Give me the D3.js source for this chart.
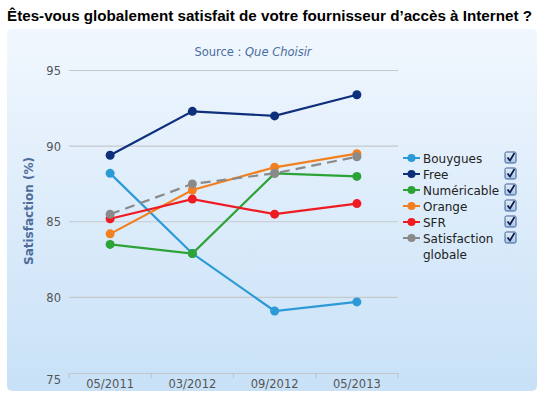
<!DOCTYPE html>
<html>
<head>
<meta charset="utf-8">
<script src="https://cdn.jsdelivr.net/npm/d3@7"></script>
<style>
  body { margin: 0; background: #fff; }
  svg { display: block; }
</style>
</head>
<body>
<div id="chart"></div>
<script>
// data
const periods = ["05/2011", "03/2012", "09/2012", "05/2013"];
const bouygues = [88.2, 82.9, 79.1, 79.7];
const free = [89.4, 92.3, 92.0, 93.4];
const numericable = [83.5, 82.9, 88.2, 88.0];
const orange = [84.2, 87.1, 88.6, 89.5];
const sfr = [85.2, 86.5, 85.5, 86.2];
const globale = [85.5, 87.5, 88.2, 89.3];
const yTicks = [75, 80, 85, 90, 95];

const series = [
  {name: "Bouygues", values: bouygues, color: "#2b9ad6"},
  {name: "Free", values: free, color: "#0e2f7a"},
  {name: "Numéricable", values: numericable, color: "#2da236"},
  {name: "Orange", values: orange, color: "#f3801f"},
  {name: "SFR", values: sfr, color: "#ee1b23"},
  {name: "Satisfaction globale", values: globale, color: "#8a8a8a", dash: "10,6"}
];

const width = 543, height = 398;
const plot = {left: 69, right: 398, top: 70.5, bottom: 373};
const font = "DejaVu Sans, Open Sans, sans-serif";

let svg = d3.select("#chart")
  .append("svg")
    .attr("width", width)
    .attr("height", height);

let defs = svg.append("defs");
let bg = defs.append("linearGradient").attr("id", "bg")
  .attr("x1", 0).attr("y1", 0).attr("x2", 0).attr("y2", 1);
bg.append("stop").attr("offset", "0%").attr("stop-color", "#f1f7fe");
bg.append("stop").attr("offset", "100%").attr("stop-color", "#c8e1f7");

let cb = defs.append("linearGradient").attr("id", "cb")
  .attr("x1", 0).attr("y1", 0).attr("x2", 0).attr("y2", 1);
cb.append("stop").attr("offset", "0%").attr("stop-color", "#e6effa");
cb.append("stop").attr("offset", "100%").attr("stop-color", "#a9c4e8");

// title
svg.append("text")
  .attr("x", 7).attr("y", 21)
  .style("font-family", "Liberation Sans, Arial, sans-serif")
  .style("font-size", "15.2px").style("font-weight", "bold")
  .attr("fill", "#000")
  .text("Êtes-vous globalement satisfait de votre fournisseur d’accès à Internet ?");

// chart box
svg.append("rect")
  .attr("x", 7).attr("y", 29).attr("width", 530).attr("height", 362)
  .attr("rx", 5).attr("fill", "url(#bg)");

// subtitle
let sub = svg.append("text")
  .attr("x", 253).attr("y", 56).attr("text-anchor", "middle")
  .style("font-family", font)
  .style("font-size", "11.5px").attr("fill", "#4a6e9e");
sub.append("tspan").text("Source : ");
sub.append("tspan").style("font-style", "italic").text("Que Choisir");

// scales
const x = d3.scaleBand().domain(periods).range([plot.left, plot.right]);
const y = d3.scaleLinear().domain([75, 95]).range([plot.bottom, plot.top]);

// grid lines
svg.append("g").selectAll("line")
  .data(yTicks.filter(d => d > 75))
  .enter().append("line")
    .attr("x1", plot.left).attr("x2", plot.right)
    .attr("y1", d => y(d)).attr("y2", d => y(d))
    .attr("stroke", "#c6c9cc").attr("stroke-width", 1.2);

// y axis labels
svg.append("g")
  .attr("transform", "translate(" + (plot.left - 8) + ",0)")
  .call(d3.axisLeft(y).tickValues(yTicks).tickSize(0).tickPadding(0))
  .call(g => g.select(".domain").remove())
  .call(g => g.selectAll("text")
    .attr("dy", d => d === 75 ? "0.95em" : "0.35em")
    .attr("fill", "#555")
    .style("font-family", font)
    .style("font-size", "11.5px"));

// x axis
svg.append("g")
  .attr("transform", "translate(0," + plot.bottom + ")")
  .call(d3.axisBottom(x).tickSize(0).tickPadding(7))
  .call(g => g.select(".domain").attr("stroke", "#c0c6cc").attr("stroke-width", 1.2))
  .call(g => g.selectAll("text")
    .attr("fill", "#555")
    .style("font-family", font)
    .style("font-size", "11.5px"));

// category ticks
svg.append("g").selectAll("line")
  .data(periods.concat(["end"]))
  .enter().append("line")
    .attr("x1", (d, i) => plot.left + i * x.bandwidth())
    .attr("x2", (d, i) => plot.left + i * x.bandwidth())
    .attr("y1", plot.bottom).attr("y2", plot.bottom + 5)
    .attr("stroke", "#c0c6cc").attr("stroke-width", 1.2);

// y axis title
svg.append("text")
  .attr("transform", "translate(33,211) rotate(-90)")
  .attr("text-anchor", "middle")
  .style("font-family", font)
  .style("font-size", "12px").style("font-weight", "bold")
  .attr("fill", "#4d6d9a")
  .text("Satisfaction (%)");

// lines + markers
const line = d3.line()
  .x((d, i) => x(periods[i]) + x.bandwidth() / 2)
  .y(d => y(d));

let lines = svg.append("g");
series.forEach(s => {
  let g = lines.append("g");
  g.append("path")
    .attr("d", line(s.values))
    .attr("fill", "none")
    .attr("stroke", s.color)
    .attr("stroke-width", 2.2)
    .attr("stroke-dasharray", s.dash || null);
  g.selectAll("circle")
    .data(s.values)
    .enter().append("circle")
      .attr("cx", (d, i) => x(periods[i]) + x.bandwidth() / 2)
      .attr("cy", d => y(d))
      .attr("r", 4.5)
      .attr("fill", s.color);
});

// legend
let legend = svg.append("g").attr("transform", "translate(403,158)");
series.forEach((s, i) => {
  let item = legend.append("g").attr("transform", "translate(0," + (i * 16) + ")");
  item.append("line")
    .attr("x1", 0).attr("x2", 17).attr("y1", 0).attr("y2", 0)
    .attr("stroke", s.color).attr("stroke-width", 2);
  item.append("circle").attr("cx", 8.5).attr("cy", 0).attr("r", 4).attr("fill", s.color);
  let words = s.name === "Satisfaction globale" ? ["Satisfaction", "globale"] : [s.name];
  let t = item.append("text")
    .attr("x", 20).attr("y", 4.5)
    .style("font-family", font)
    .style("font-size", "12px").attr("fill", "#222");
  words.forEach((w, j) => t.append("tspan").attr("x", 20).attr("dy", j ? 16 : 0).text(w));
  // checkbox
  let box = item.append("g").attr("transform", "translate(102,-6)");
  box.append("rect").attr("width", 11).attr("height", 11).attr("rx", 1.5)
    .attr("fill", "url(#cb)").attr("stroke", "#3b5f93").attr("stroke-width", 1);
  box.append("path").attr("d", "M2.5,5.5 L5,8.5 L9.5,1")
    .attr("fill", "none").attr("stroke", "#0c1f4a").attr("stroke-width", 1.8);
});
</script>
</body>
</html>
